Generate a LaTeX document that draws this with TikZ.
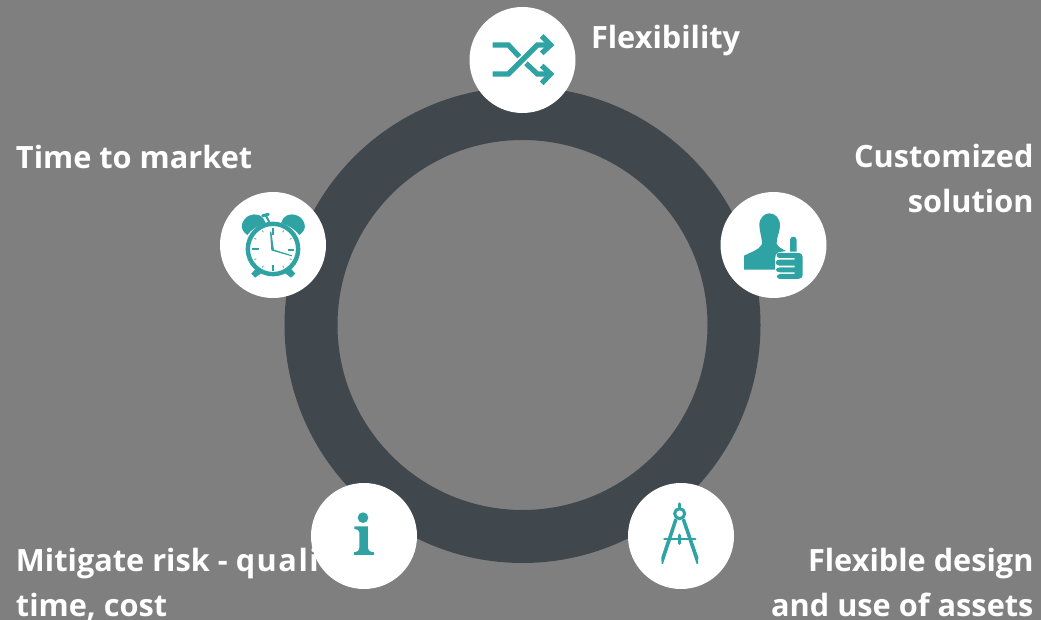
\documentclass[tikz,border=0pt]{standalone}
\usepackage{fontspec}
\setmainfont{Open Sans}
\definecolor{bgc}{RGB}{127,127,127}
\definecolor{ringc}{RGB}{64,72,77}
\definecolor{teal}{RGB}{47,163,163}
\tikzset{
  badge/.style={circle,fill=white,minimum size=106pt,inner sep=0pt,outer sep=0pt},
  lbl/.style={font=\fontsize{30.7}{45}\selectfont\bfseries,text=white,inner sep=0pt,outer sep=0pt},
  ico/.style={draw=teal,line width=5.2pt,line join=miter},
}
\begin{document}
\begin{tikzpicture}[x=1pt,y=-1pt]
\useasboundingbox (0,0) rectangle (1041,620);
\fill[bgc] (0,0) rectangle (1041,620);
\node[circle,draw=ringc,line width=53pt,minimum size=423pt,inner sep=0pt,outer sep=0pt] (ring) at (522.5,325) {};
% labels
\node[lbl,anchor=west] (t1) at (591,41) {Flexibility};
\node[lbl,anchor=west] (t2) at (16,157) {Time to market};
\node[lbl,anchor=east,align=right] (t3) at (1033.5,178.5) {Customized\\solution};
\node[lbl,anchor=east,align=right] (t4) at (1033.5,582.5) {Flexible design\\and use of assets};
\node[lbl,anchor=west,align=left] (t5) at (16,584.5) {Mitigate risk - {\addfontfeature{LetterSpace=5}quality,}\\time, cost};
% badges
\node[badge] (b1) at (522.5,60) {};
\node[badge] (b2) at (273,245) {};
\node[badge] (b3) at (773.5,245) {};
\node[badge] (b4) at (681,536) {};
\node[badge] (b5) at (364,536) {};
% shuffle icon
\begin{scope}[shift={(460,0)},x=0.3333pt,y=-0.3333pt]
\draw[ico] (98,135) -- (145,135) -- (178,170);
\draw[ico] (98,222) -- (145,222) -- (232,135) -- (268,135);
\draw[ico] (198,190) -- (232,222) -- (268,222);
\draw[ico] (245,108) -- (272,135) -- (245,160);
\draw[ico] (245,197) -- (272,222) -- (245,250);
\end{scope}
% clock icon
\begin{scope}[shift={(210,185)},x=0.3333pt,y=-0.3333pt]
\fill[teal] (135,278) -- (124,266) -- (142,246) -- (158,262) -- cycle;
\fill[teal] (243,278) -- (256,266) -- (238,246) -- (222,262) -- cycle;
\draw[teal,line width=4.4pt] (189,192) circle[radius=75.5];
\fill[teal] (96,118) .. controls (104,92) and (128,84) .. (146,90) .. controls (158,95) and (164,104) .. (167,114) .. controls (142,122) and (124,134) .. (112,150) .. controls (100,142) and (93,130) .. (96,118) -- cycle;
\fill[teal] (284,118) .. controls (276,92) and (252,84) .. (234,90) .. controls (222,95) and (216,104) .. (213,114) .. controls (238,122) and (256,134) .. (268,150) .. controls (280,142) and (287,130) .. (284,118) -- cycle;
\draw[teal,line width=2pt] (167,90) -- (178,112);
\draw[teal,line width=3pt,line cap=round] (158,92) -- (175,88);
\draw[teal,line width=1.7pt] (188,128) -- (188,150);
\draw[teal,line width=1.7pt] (188,240) -- (188,259);
\draw[teal,line width=1.7pt] (126,192) -- (148,192);
\draw[teal,line width=1.7pt] (234,195) -- (252,195);
\foreach \a in {30,60,120,150,210,240,300,330}
  \draw[teal,line width=.7pt] ({189+58*cos(\a)},{192+58*sin(\a)}) -- ({189+64*cos(\a)},{192+64*sin(\a)});
\fill[teal] (180,140) -- (184,140) -- (192,196) -- (184,196) -- cycle;
\fill[teal] (186,192) -- (246,211) -- (245,214) -- (186,197) -- cycle;
\end{scope}
% person thumbs-up icon
\begin{scope}[shift={(712,185)},x=0.3333pt,y=-0.3333pt]
\fill[teal] (96,254) -- (96,212) .. controls (115,202) and (140,196) .. (150,178) .. controls (152,165) and (142,140) .. (142,120) .. controls (142,98) and (158,85) .. (172,85) .. controls (188,85) and (204,98) .. (204,122) .. controls (204,142) and (192,160) .. (194,176) .. controls (198,186) and (210,192) .. (222,198) -- (198,202) .. controls (186,208) and (190,225) .. (189,254) -- cycle;
\fill[teal] (234,200) -- (234,165) .. controls (234,152) and (254,152) .. (254,165) -- (254,200) -- cycle;
\fill[teal] (198,204) -- (258,204) .. controls (268,204) and (272,210) .. (272,216) -- (272,268) .. controls (272,278) and (266,282) .. (258,282) -- (204,282) .. controls (192,282) and (192,267) .. (204,267) -- (248,267) -- (248,262) -- (204,262) .. controls (188,262) and (188,247) .. (204,247) -- (248,247) -- (248,242) -- (202,242) .. controls (188,242) and (188,224) .. (202,224) -- (248,224) -- (248,219) -- (202,219) .. controls (192,219) and (192,204) .. (198,204) -- cycle;
\end{scope}
% compass icon
\begin{scope}[shift={(620,478)},x=0.3333pt,y=-0.3333pt]
\draw[teal,line width=3.4pt,line cap=round] (179,78) -- (179,92);
\draw[teal,line width=3pt] (179,107) circle[radius=15];
\fill[teal] (163,122) -- (173,125) -- (129,258) -- (125,258) -- (124,238) -- cycle;
\fill[teal] (195,122) -- (185,125) -- (230,258) -- (234,258) -- (235,238) -- cycle;
\draw[teal,line width=2.6pt,line cap=round] (133,183) -- (226,183);
\draw[teal,line width=3.4pt,line cap=round] (179,172) -- (179,196);
\end{scope}
% info icon
\begin{scope}[shift={(300,478)},x=0.3333pt,y=-0.3333pt]
\fill[teal] (189,119) circle[radius=16];
\fill[teal] (163,145) -- (204,145) -- (204,208) .. controls (204,218) and (210,222) .. (222,223) -- (222,231) -- (162,231) -- (162,223) .. controls (172,222) and (178,218) .. (178,208) -- (178,163) .. controls (178,156) and (172,154) .. (163,153) -- cycle;
\end{scope}
\end{tikzpicture}
\end{document}
